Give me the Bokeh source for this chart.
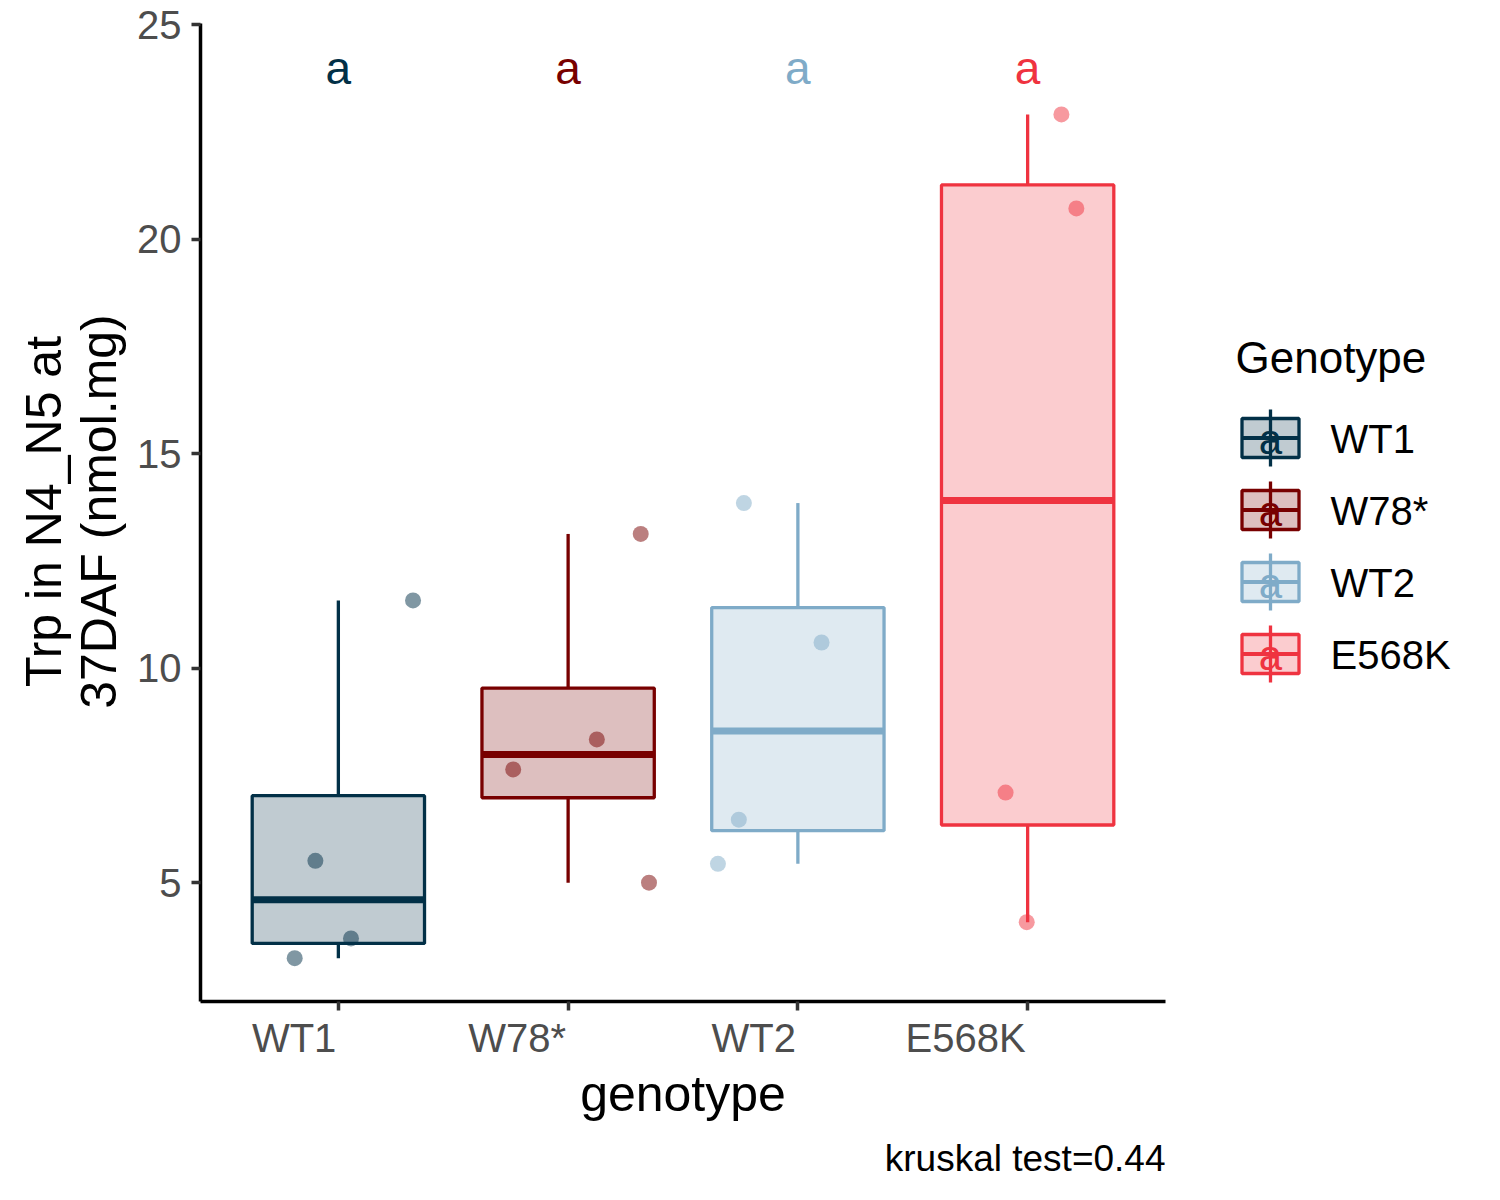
import numpy as np
from bokeh.plotting import figure
from bokeh.models import Range1d, FixedTicker, ColumnDataSource, Spacer
from bokeh.layouts import row, column
from bokeh.embed import file_html
from bokeh.resources import INLINE
from bokeh.core.properties import value

# ---------------- data ----------------
genotypes = ["WT1", "W78*", "WT2", "E568K"]
colors = ["#023047", "#780000", "#7FABC8", "#EF3340"]

wt1_vals = [3.24, 5.51, 3.70, 11.58]
wt1_jitter = [-0.19, -0.10, 0.055, 0.325]
w78_vals = [7.64, 8.34, 13.13, 5.00]
w78_jitter = [-0.239, 0.125, 0.316, 0.352]
wt2_vals = [5.44, 6.47, 10.60, 13.85]
wt2_jitter = [-0.348, -0.257, 0.103, -0.235]
e568k_vals = [4.08, 7.10, 20.72, 22.91]
e568k_jitter = [-0.004, -0.096, 0.212, 0.147]

letters = ["a", "a", "a", "a"]
letter_y = 24
y_ticks = [5, 10, 15, 20, 25]
y_title = ["Trp in N4_N5 at", "37DAF (nmol.mg)"]
x_title = "genotype"
legend_title = "Genotype"
caption = "kruskal test=0.44"

values = [wt1_vals, w78_vals, wt2_vals, e568k_vals]
jitters = [wt1_jitter, w78_jitter, wt2_jitter, e568k_jitter]

FONT = "Liberation Sans"
BOX_W = 0.75

# ---------------- layout constants (pixels) ----------------
W_YT, W_MAIN, W_LEG = 130, 1047, 307
H_TOP, H_BOT = 1013, 177
F_TOP, F_BOTTOM = 23, 1001          # frame top / bottom (page px)
F_LEFT, F_RIGHT = 200, 1165         # frame left / right (page px)
X0, X1 = 0.4, 4.6
Y0, Y1 = 2.23, 25.03


def clean(fig):
    fig.outline_line_color = None
    fig.xgrid.visible = False
    fig.ygrid.visible = False
    fig.background_fill_color = "white"
    fig.border_fill_color = "white"


# ---------------- box statistics ----------------
pos = [i + 1 for i in range(len(genotypes))]
q1s, meds, q3s, lows, highs = [], [], [], [], []
for v in values:
    a = np.array(v)
    q1, med, q3 = np.percentile(a, [25, 50, 75])
    iqr = q3 - q1
    lows.append(float(a[a >= q1 - 1.5 * iqr].min()))
    highs.append(float(a[a <= q3 + 1.5 * iqr].max()))
    q1s.append(float(q1)); meds.append(float(med)); q3s.append(float(q3))

# ---------------- main figure ----------------
p = figure(width=W_MAIN, height=H_TOP, output_backend="svg", toolbar_location=None,
           x_range=Range1d(X0, X1), y_range=Range1d(Y0, Y1),
           min_border_left=F_LEFT - W_YT, min_border_right=W_YT + W_MAIN - F_RIGHT,
           min_border_top=F_TOP, min_border_bottom=H_TOP - F_BOTTOM)
clean(p)

for ax in (p.xaxis[0], p.yaxis[0]):
    ax.axis_line_color = "black"
    ax.axis_line_width = 3.5
    ax.major_tick_line_color = "#333333"
    ax.major_tick_line_width = 3.5
    ax.major_tick_out = 9
    ax.major_tick_in = 0
    ax.minor_tick_line_color = None
    ax.major_label_text_font = FONT
    ax.major_label_text_color = "#4D4D4D"

p.yaxis.ticker = FixedTicker(ticks=y_ticks)
p.yaxis.major_label_standoff = 10
p.yaxis.major_label_text_font_size = "40px"
p.xaxis.ticker = FixedTicker(ticks=pos)
p.xaxis.major_label_overrides = {k: "" for k in pos}
p.xaxis.major_label_text_font_size = "1px"
p.xaxis.major_label_standoff = 0

# jittered points (drawn first)
for i, (v, j) in enumerate(zip(values, jitters)):
    xs = [pos[i] + d for d in j]
    p.scatter(xs, v, size=16, fill_color=colors[i], fill_alpha=0.5, line_color=None)

# boxplots
for i in range(len(genotypes)):
    c = colors[i]
    x = pos[i]
    p.segment(x0=[x, x], y0=[q3s[i], q1s[i]], x1=[x, x], y1=[highs[i], lows[i]],
              line_color=c, line_width=3.3)
    p.vbar(x=[x], width=BOX_W, top=[q3s[i]], bottom=[q1s[i]], fill_color=c,
           fill_alpha=0.25, line_color=c, line_width=3.3)
    p.segment(x0=[x - BOX_W / 2], y0=[meds[i]], x1=[x + BOX_W / 2], y1=[meds[i]],
              line_color=c, line_width=7)

# letters
src = ColumnDataSource(dict(x=pos, y=[letter_y] * len(pos), t=letters, c=colors))
p.text(x="x", y="y", text="t", text_color="c", source=src, text_align="center",
       text_baseline="middle", text_font=value(FONT), text_font_size="46px")

# ---------------- y-title figure (page pixel coordinates) ----------------
yt = figure(width=W_YT, height=H_TOP, output_backend="svg", toolbar_location=None,
            x_range=Range1d(0, W_YT), y_range=Range1d(H_TOP - F_BOTTOM, H_TOP - F_TOP),
            x_axis_location=None, y_axis_location=None,
            min_border_left=0, min_border_right=0,
            min_border_top=F_TOP, min_border_bottom=H_TOP - F_BOTTOM)
clean(yt)
yt.text(x=[43, 98], y=[H_TOP - 511] * 2, text=y_title, angle=np.pi / 2,
        text_align="center", text_baseline="middle", text_font=value(FONT),
        text_font_size="50px", text_color="black")

# ---------------- legend figure (page pixel coordinates) ----------------
lx0 = W_YT + W_MAIN
lg = figure(width=W_LEG, height=H_TOP, output_backend="svg", toolbar_location=None,
            x_range=Range1d(lx0, lx0 + W_LEG), y_range=Range1d(F_BOTTOM, F_TOP),
            x_axis_location=None, y_axis_location=None,
            min_border_left=0, min_border_right=0,
            min_border_top=F_TOP, min_border_bottom=H_TOP - F_BOTTOM)
clean(lg)

lg.text(x=[1235], y=[357], text=[legend_title], text_font=value(FONT),
        text_font_size="44px", text_color="black", text_baseline="middle")

kx, kw, kh, wh = 1270, 57, 39, 57
ky = [437.5 + 72 * i for i in range(len(genotypes))]
for i, g in enumerate(genotypes):
    c = colors[i]
    y = ky[i]
    lg.segment(x0=[kx], y0=[y - wh / 2], x1=[kx], y1=[y + wh / 2], line_color=c, line_width=3.3)
    lg.quad(left=[kx - kw / 2], right=[kx + kw / 2], top=[y - kh / 2], bottom=[y + kh / 2],
            fill_color=c, fill_alpha=0.25, line_color=c, line_width=3.3)
    lg.segment(x0=[kx - kw / 2], y0=[y], x1=[kx + kw / 2], y1=[y], line_color=c, line_width=4)
    lg.text(x=[kx], y=[y + 1], text=[letters[i]], text_color=c, text_align="center",
            text_baseline="middle", text_font=value(FONT), text_font_size="42px")
    lg.text(x=[1330], y=[y + 1], text=[g], text_color="black", text_baseline="middle",
            text_font=value(FONT), text_font_size="40px")

# ---------------- bottom figure: x tick labels, x title, caption ----------------
bt = figure(width=W_MAIN, height=H_BOT, output_backend="svg", toolbar_location=None,
            x_range=p.x_range, y_range=Range1d(H_TOP + H_BOT, H_TOP),
            x_axis_location=None, y_axis_location=None,
            min_border_left=F_LEFT - W_YT, min_border_right=W_YT + W_MAIN - F_RIGHT,
            min_border_top=0, min_border_bottom=0)
clean(bt)
bt.text(x=pos, y=[1037] * len(pos), text=genotypes, x_offset=-2, text_align="right",
        text_baseline="middle", text_font=value(FONT), text_font_size="40px",
        text_color="#4D4D4D")
bt.text(x=[(X0 + X1) / 2], y=[1093], text=[x_title], text_align="center",
        text_baseline="middle", text_font=value(FONT), text_font_size="50px",
        text_color="black")
bt.text(x=[X1], y=[1158], text=[caption], text_align="right", text_baseline="middle",
        text_font=value(FONT), text_font_size="37px", text_color="black")

layout = column(row(yt, p, lg), row(Spacer(width=W_YT, height=H_BOT), bt))
open("out.html", "w").write(file_html(layout, INLINE))
